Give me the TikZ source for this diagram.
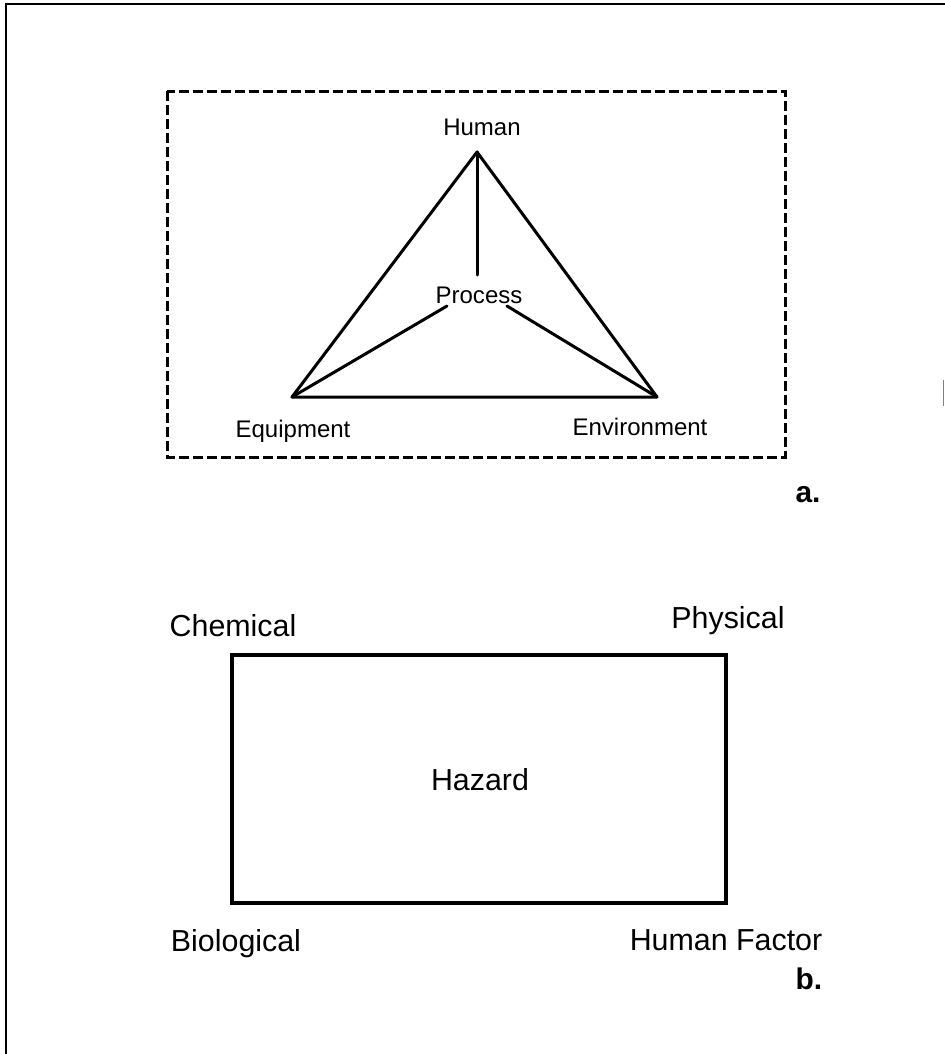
\documentclass[tikz,border=0pt]{standalone}
\usepackage{fontspec}
\setmainfont{Liberation Sans}
\begin{document}
\begin{tikzpicture}[x=1bp,y=-1bp,
  lbla/.style={inner sep=0pt, anchor=base, font=\fontsize{24.1}{28}\selectfont},
  lblb/.style={inner sep=0pt, anchor=base, font=\fontsize{30.5}{34}\selectfont},
  tag/.style={inner sep=0pt, anchor=base, font=\fontsize{30}{34}\selectfont\bfseries},
  edge/.style={line width=3bp, line cap=round, line join=round},
  frame/.style={line width=2.2bp},
  dbox/.style={line width=3bp, dash pattern=on 10bp off 4bp},
  hbox/.style={line width=4bp}]
\useasboundingbox (0,0) rectangle (945,1054);
% page frame (scan edge)
\draw[frame] (945,4) -- (6,4) -- (6,1054);
\draw[gray, line width=1.5bp] (943.5,380) -- (943.5,406);
% part a
\draw[dbox] (167,91) rectangle (785,457);
\node[lbla] (hum) at (482,135) {Human};
\node[lbla] (proc) at (479,303) {Process};
\node[lbla] (equ) at (293,437) {Equipment};
\node[lbla] (env) at (640,435) {Environment};
\node[tag] (ta) at (808,502) {a.};
\coordinate (vh) at (477,152);
\coordinate (ve) at (292,397);
\coordinate (vn) at (657,397);
\coordinate (ph) at (477,275);
\coordinate (pl) at (447,306);
\coordinate (pr) at (507,306);
\draw[edge] (vh) -- (ve) -- (vn) -- cycle;
\draw[edge] (vh) -- (ph);
\draw[edge] (ve) -- (pl);
\draw[edge] (vn) -- (pr);
% part b
\node[lblb] (chem) at (233,636) {Chemical};
\node[lblb] (phys) at (728,628) {Physical};
\draw[hbox] (232,655) rectangle (726,903);
\node[lblb] (haz) at (480,790) {Hazard};
\node[lblb] (bio) at (236,951) {Biological};
\node[lblb] (hf) at (726,950) {Human Factor};
\node[tag] (tb) at (809,989) {b.};
\end{tikzpicture}
\end{document}
